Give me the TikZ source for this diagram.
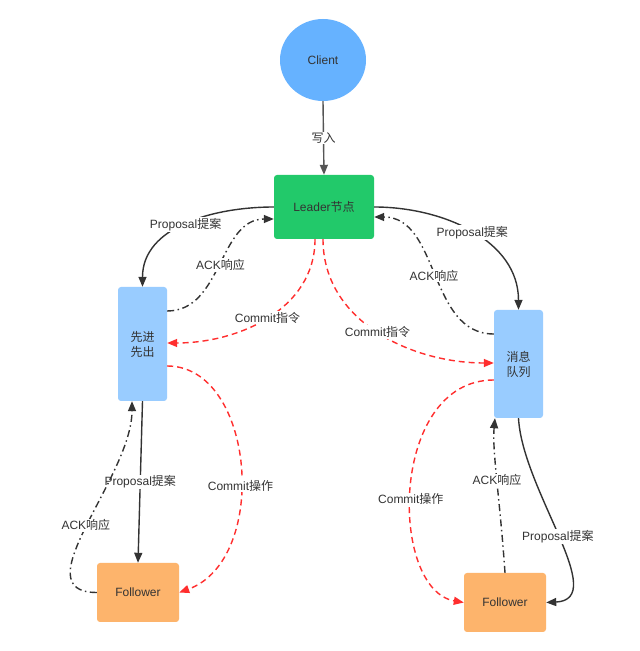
\documentclass[tikz,border=0pt]{standalone}
\usepackage{fontspec}
\setmainfont{Liberation Sans}
\newfontfamily\cjk{Noto Sans CJK SC}
\usetikzlibrary{arrows.meta,shapes.geometric}
\definecolor{txt}{HTML}{333333}
\definecolor{clientc}{HTML}{66B2FF}
\definecolor{leaderc}{HTML}{22C96A}
\definecolor{queuec}{HTML}{99CCFF}
\definecolor{followc}{HTML}{FDB46C}
\definecolor{linec}{HTML}{333333}
\definecolor{grayc}{HTML}{555555}
\definecolor{redc}{HTML}{FF2E2E}
\begin{document}
\begin{tikzpicture}[x=1pt,y=1pt,
  font=\fontsize{12}{15}\selectfont,
  box/.style={rectangle, rounded corners=3pt, draw=none, text=txt, align=center, inner sep=0pt},
  lbl/.style={fill=white, inner sep=1pt, text=txt},
  tipstyle/.style={-{Triangle[length=10pt,width=8pt]}},
  solidarrow/.style={draw=linec, line width=1.4pt, tipstyle},
  grayarrow/.style={draw=grayc, line width=1.4pt, tipstyle},
  ackarrow/.style={draw=linec, line width=1.4pt, dash pattern=on 7pt off 3.5pt on 1.5pt off 3.5pt, tipstyle},
  commitarrow/.style={draw=redc, line width=1.4pt, dash pattern=on 6pt off 4pt, tipstyle}]
\fill[white] (0,0) rectangle (640,651);
\useasboundingbox (0,0) rectangle (640,651);

\node[ellipse, fill=clientc, minimum width=86pt, minimum height=82pt, text=txt] (client) at (323,591) {Client};
\node[box, fill=leaderc, minimum width=100pt, minimum height=64pt] (leader) at (324,444) {Leader{\cjk 节点}};
\node[box, fill=queuec, minimum width=49pt, minimum height=114pt] (fifo) at (142.5,307) {{\cjk 先进}\\{\cjk 先出}};
\node[box, fill=queuec, minimum width=49pt, minimum height=108pt] (mq) at (518.5,287) {{\cjk 消息}\\{\cjk 队列}};
\node[box, fill=followc, minimum width=82pt, minimum height=59pt] (f1) at (138,58.5) {Follower};
\node[box, fill=followc, minimum width=82pt, minimum height=59pt] (f2) at (505,48.5) {Follower};

\draw[grayarrow] (client.south) -- node[lbl] {{\cjk 写入}} (leader.north);

\draw[solidarrow] (leader.west) to[out=180,in=90] node[lbl] {Proposal{\cjk 提案}} (fifo.north);
\draw[ackarrow] ([yshift=33pt]fifo.east) to[out=0,in=180] node[lbl] {ACK{\cjk 响应}} ([yshift=-12pt]leader.west);
\draw[commitarrow] ([xshift=-9pt]leader.south) to[out=-90,in=0] node[lbl] {Commit{\cjk 指令}} ([yshift=1pt]fifo.east);
\draw[commitarrow] ([xshift=-1pt]leader.south) to[out=-90,in=180] node[lbl] {Commit{\cjk 指令}} ([yshift=1pt]mq.west);
\draw[solidarrow] (leader.east) to[out=0,in=90] node[lbl] {Proposal{\cjk 提案}} (mq.north);
\draw[ackarrow] ([yshift=30pt]mq.west) to[out=180,in=0] node[lbl] {ACK{\cjk 响应}} ([yshift=-10pt]leader.east);

\draw[solidarrow] (fifo.south) -- node[lbl] {Proposal{\cjk 提案}} (f1.north);
\draw[ackarrow] (f1.west) to[out=180,in=-90] node[lbl] {ACK{\cjk 响应}} ([xshift=-10.5pt]fifo.south);
\draw[commitarrow] ([yshift=-22pt]fifo.east) .. controls +(88,0) and +(91,33) .. (f1.east) node[lbl,pos=.56] {Commit{\cjk 操作}};

\draw[commitarrow] ([yshift=-16pt]mq.west) .. controls +(-105,0) and +(-75,13) .. (f2.west) node[lbl,pos=.54] {Commit{\cjk 操作}};
\draw[ackarrow] (f2.north) .. controls +(-5,73) and +(-3,-32) .. ([xshift=-23.5pt]mq.south) node[lbl,pos=.5] {ACK{\cjk 响应}};
\draw[solidarrow] (mq.south) .. controls +(4,-72) and +(64,3) .. (f2.east) node[lbl,pos=.5] {Proposal{\cjk 提案}};
\end{tikzpicture}
\end{document}
